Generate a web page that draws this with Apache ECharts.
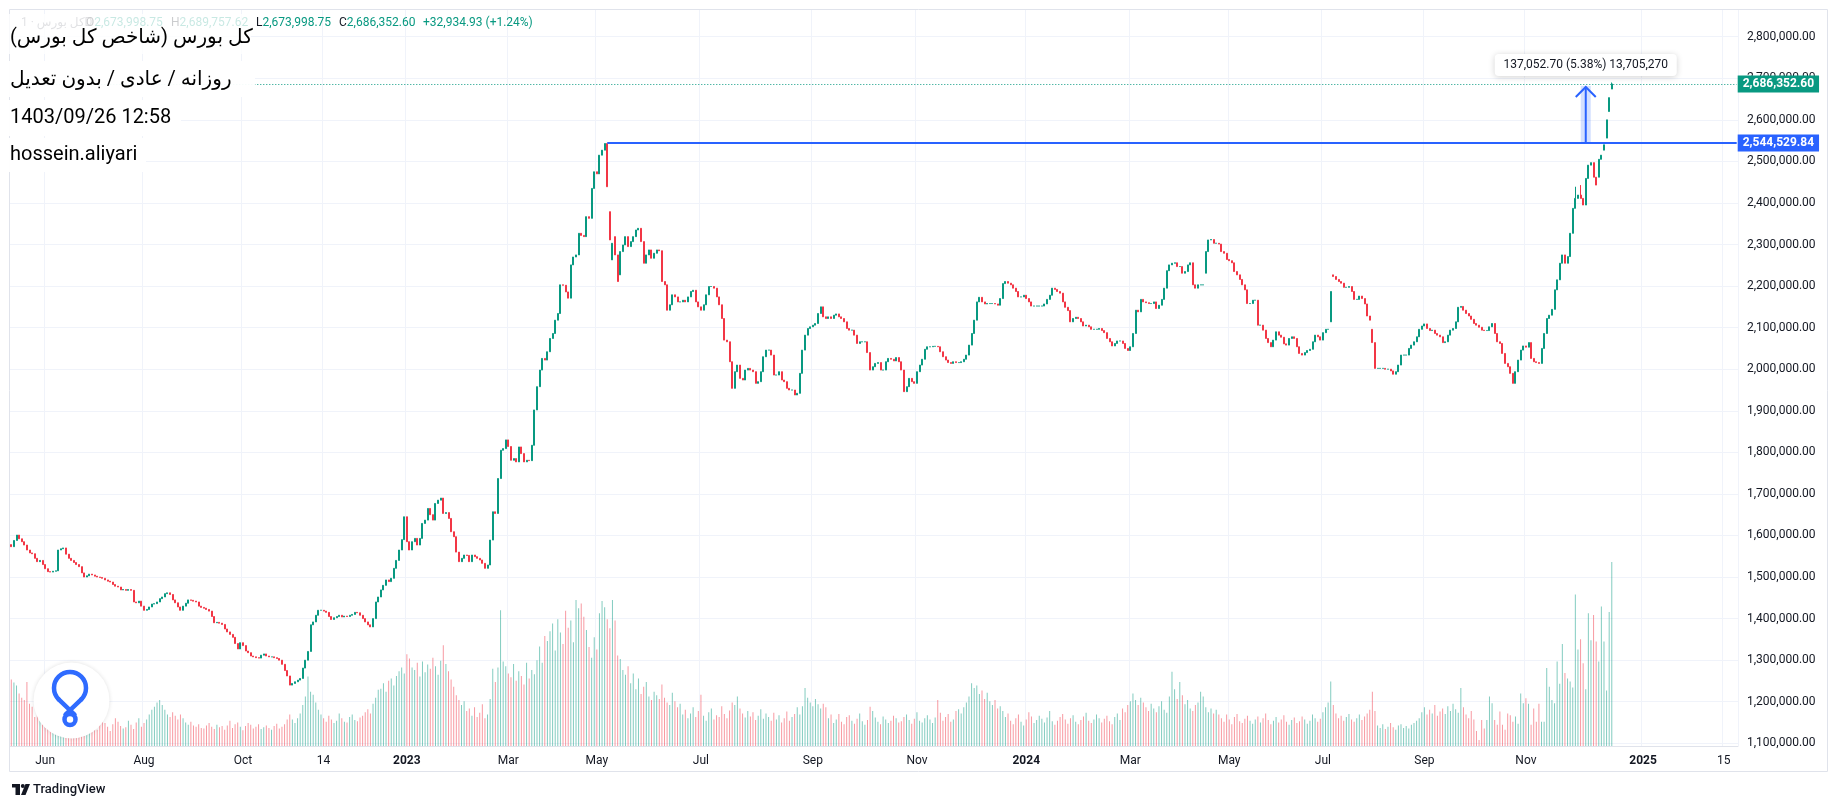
<!DOCTYPE html>
<html><head><meta charset="utf-8">
<script src="https://cdn.jsdelivr.net/npm/echarts@6/dist/echarts.min.js"></script>
<style>html,body{margin:0;padding:0;background:#fff}#c{width:1836px;height:809px}</style>
</head><body><div id="c"></div>
<script>
// ---------- DATA (closes in thousands, volume in billions) ----------
const closeK = [
1573,1588,1601,1592,1585,1577,1565,1558,1556,1545,
1537,1540,1530,1520,1513,1512,1514,1515,1565,1568,
1570,1555,1545,1540,1535,1530,1525,1510,1500,1503,
1507,1505,1502,1500,1499,1497,1493,1490,1488,1482,
1478,1476,1469,1470,1468,1470,1468,1440,1438,1442,
1430,1420,1422,1428,1435,1436,1440,1448,1452,1460,
1462,1458,1445,1438,1428,1420,1430,1437,1445,1444,
1442,1440,1430,1427,1425,1422,1418,1405,1390,1391,
1389,1386,1375,1368,1362,1355,1340,1327,1342,1335,
1322,1318,1310,1308,1306,1305,1312,1315,1310,1308,
1308,1306,1304,1300,1290,1275,1262,1240,1244,1248,
1252,1256,1281,1300,1321,1385,1392,1408,1420,
1420,1418,1415,1405,1398,1402,1405,1408,1404,1406,1405,1408,1410,1415,1414,1408,1400,1392,1385,1380,1400,1440,
1452,1469,1480,1493,1489,1497,1521,1540,1565,1590,
1645,1585,1565,1585,1593,1577,1593,1629,1637,1665,
1650,1637,1677,1685,1690,1653,1655,1641,1609,1597,
1560,1537,1545,1553,1552,1537,1553,1549,1545,1541,
1533,1521,1529,1589,1657,1653,1737,1805,1809,1830,
1814,1781,1785,1777,1813,1797,1777,1781,1780,1817,
1902,1958,1998,2026,2022,2042,2074,2086,2118,2134,
2203,2202,2186,2171,2251,2270,2275,2327,2322,2319,
2367,2363,2435,2475,2470,2515,2527,2543,
2439,2311,2303,
2275,2211,2283,2299,2319,2295,2307,2319,2335,2339,
2307,2255,2275,2287,2267,2279,2287,2285,2211,2203,
2142,2155,2179,2174,2162,2162,2166,2162,2174,2187,
2190,2162,2150,2142,2155,2179,2199,2199,2195,2174,
2155,2122,2070,2066,2018,1954,1994,2010,1978,1974,
1998,2002,1998,1994,1966,1970,1994,2030,2046,2046,
2034,1986,1986,1994,1974,1970,1954,1950,1950,1938,
1942,1990,2046,2082,2098,2102,2106,2110,2134,2150,
2126,2122,2126,2122,2130,2133,2126,2122,2114,2098,
2094,2094,2082,2062,2066,2066,2066,2040,1998,2006,
2014,2016,1998,1998,2018,2026,2024,2020,2028,2018,
1998,1946,1958,1978,1970,1966,1994,2010,2024,2048,
2054,2054,2055,2055,2054,2042,2030,2022,2016,2014,
2018,2016,2016,2018,2024,2034,2058,2086,2118,2162,
2173,2162,2157,2158,2158,2158,2157,2154,2170,2206,
2211,2207,2203,2195,2187,2174,2174,2178,2170,2162,
2152,2152,2152,2152,2152,2157,2168,2178,2195,2192,
2187,2183,2162,2149,2141,2114,2122,2125,2122,2114,
2104,2106,2102,2096,2096,2096,2098,2093,2088,2074,
2066,2056,2062,2068,2068,2062,2050,2045,2054,2086,
2142,2138,2168,2162,2160,2158,2158,2162,2146,2154,
2168,2195,2237,2251,2255,2256,2247,2247,2231,2235,
2251,
2256,
2203,2195,2203,2203,2203,2283,2311,2312,2303,2303,
2301,2283,2279,2264,2261,2256,2235,2227,2216,2203,
2191,2158,2158,2166,2166,2106,2106,2094,2074,2064,
2054,2070,2090,2082,2077,2061,2058,2074,2078,2074,
2054,2038,2034,2040,2045,2048,2066,2082,2078,2070,
2088,2096,2096,2187,2223,2216,2211,2207,2197,2197,
2199,2187,2168,2168,2176,2170,2157,2128,2118,2064,
2002,2002,2002,2002,2000,2000,1996,1988,1994,2010,
2034,2034,2034,2050,2058,2066,2078,2096,2104,2109,
2098,2093,2094,2086,2082,2078,2064,2066,2082,2094,
2098,2114,2149,2151,2142,2134,2128,2120,2110,
2106,2101,2094,2093,2093,2102,2110,2086,2066,2062,
2038,2014,2006,1990,1966,1994,2022,2046,2056,2053,
2064,2026,2018,2016,2014,2050,2086,2122,2130,2144,
2191,2215,2255,2275,2255,2271,2327,2387,2411,2419,
2411,2395,2459,2491,2497,2462,2443,2505,2515,2540,
2600,2653.42,2686.35
];
const openOverrideIdx = [0, 229, 230, 231, 232, 234, 459, 507, 508, 523, 610, 612, 613, 614];
const openOverrideK   = [1578, 2543, 2379, 2263, 2319, 2227, 2231, 2114, 2227, 2096, 2462, 2527, 2556, 2620];
const wickHighIdx = [229, 601, 603];
const wickHighK   = [2544.52984, 2439, 2443];
const lastBar = { open: 2673998.75, high: 2689757.62, low: 2673998.75, close: 2686352.60 };

const volumeB = [
11,10.5,10,8.7,8,7.6,10.6,7,6.5,4.8,5.5,4.2,3.6,3.2,3.5,3,2.8,3.3,4.5,6,5,
3.5,3,2.8,3.2,4,3.6,3,2.6,3.4,3.8,4.2,3,2.7,3.5,4.4,3.8,3.2,2.5,3.6,4.6,4,3.3,2.9,3.1,4.2,3.5,2.8,3.9,4.6,3.2,
3.8,4.4,5.2,6,6.5,7.2,7.6,6.8,6,5.2,4.8,5.6,5,4.4,5.2,4.6,3.9,3.5,4,3.4,3.2,3.6,3,2.9,3.4,3.8,3.2,2.8,3.5,3.1,
3.3,2.7,3.4,4.2,3,3.6,3.9,3.2,2.6,3.3,3.8,3.5,2.9,3.2,3.6,2.8,3.1,3.4,3,2.7,3.3,3.7,2.9,3.2,3.6,4.4,5.2,4.4,3.8,4.6,
5.4,6.8,8.2,11.5,9,8.5,7.2,6,5.2,4.6,4,5,4.4,3.8,4.2,5.4,4.6,4,3.9,4.8,5.2,4.3,4.1,4.7,5,5.6,6.1,5.4,7,8,
9.3,9.5,10.4,9,10.8,11.2,10,11.6,12.4,13,12,15.2,14.5,13,12.6,13.8,11.5,14,12.2,13.5,12.8,14.6,13.2,11.8,14.1,16.7,13.6,12.4,11,9.8,
8.4,7.6,6.8,7.4,5.8,6.2,5,6.4,4.8,5.5,6.9,4.6,5.2,7.8,12.8,10.6,13,22.5,14,13.2,12,11.4,13.6,10.8,12.4,11.6,10.2,13.8,11.2,12.6,
11.9,14.2,16.5,13.8,18.2,17.4,19,20.3,15.8,21,18.8,16.9,22.4,19.6,20.8,17.2,24.2,22.8,23.6,21.4,19.2,16.4,14.6,18,16,22,24,23,21,19.5,24.2,20.8,15,14.4,12.6,
11.8,13.2,10.4,12,9.4,11.2,8.6,9.8,10.6,8.2,7.6,9,8.4,7.8,10.2,8,7.2,6.8,8.8,7.4,
6.4,7,5.2,6,4.6,5.4,6.4,4.8,5.8,8.5,5,4.2,5.6,6.2,4.4,5.1,4.8,6.6,5.3,4.6,5.9,7.2,6.8,8.2,6.2,5.4,4.7,5.8,4.9,5.6,4.3,5,6.1,4.5,5.4,4.8,4.2,5.5,4.4,5.1,3.9,4.6,5.7,4.2,4.8,5.3,6.4,5.2,6.6,9.6,
8,7.2,6.6,7.8,6.9,6.2,7,6.4,
4.6,5.2,3.8,4.4,5.3,4,3.6,4.8,5.1,4.2,3.7,4.5,5.4,4.1,3.5,4.3,6.5,5.8,4.7,4,3.6,4.9,4.4,3.8,4.2,5,4.6,3.9,4.1,4.8,5.2,4.3,3.7,4.5,5.6,4.2,3.9,4.6,5.1,4.4,3.8,4.7,7.6,5.5,4.2,4.8,5.3,4,4.4,5.8,6.1,5.4,
6.4,7.2,8.2,10.4,9.6,10,8.6,9.2,7.8,8.8,7.4,6.8,7.6,6.2,6.6,5.8,
4.8,5.4,4.2,3.6,4.6,5.2,4,3.4,4.4,5.6,4.9,3.8,4.3,5,4.5,3.9,4.7,5.8,4.1,3.5,4.2,4.8,5.3,4.4,3.7,4.6,5.1,4,3.6,4.3,4.9,5.5,4.2,3.8,4.4,5.2,4.6,3.9,4.5,5,4.1,3.6,4.8,5.4,4.3,6.2,5.6,6.8,7.4,
8.7,7.6,6.8,8,7.2,6.4,5.8,7,6.2,5.6,6.6,7.4,6,5.5,8.2,12.3,9.4,7.8,10.6,8.4,6.9,7.6,6.2,5.8,6.8,7.2,9,8.2,6.4,5.6,6.2,5.4,6,5.2,
4.6,4,5.2,4.4,3.6,4.8,5.3,4.1,3.8,4.5,5,4.2,3.7,4.4,4.9,3.9,4.6,5.4,4.3,3.6,4.2,4.8,3.9,4.4,5.1,4,3.5,4.3,4.7,3.8,4.1,4.9,4.4,3.7,4.2,5.2,4.6,4,4.5,5.6,6.4,7.2,
10.7,
6.8,5.4,4.6,5,4.2,4.8,5.3,4.4,4,4.6,5.2,4.3,4.9,5.4,6,9,5.8,
3.4,3,3.6,2.8,3.2,3.8,3.1,2.7,3.4,3.6,3,3.3,2.9,3.5,3.8,4.2,4.6,
5.6,6.4,5.2,6,5.4,6.8,5,5.7,6.2,5.3,6.6,5.8,7,6.1,5.5,9.6,6.4,5.2,4.6,5.8,4.4,2.5,1,
4.3,2.9,4.3,8.2,7.1,4.3,3.5,5.7,3.5,2.7,5.4,5.1,4,4.9,3.7,8.7,7.1,7.9,7,3.5,6.2,4,7,4,4,12.9,9.8,7.6,7.1,14,10.3,16.9,12.1,11.2,10.7,9.7,25.1,16,17.7,13.7,9.4,22,17.5,21.7,17.3,14,23.1,17.3,9.2,22.2,30.477
];

const tickIdx  = [13, 51, 89, 120, 152, 191, 225, 265, 308, 348, 390, 430, 468, 504, 543, 582, 627, 658];
const tickText = ['Jun','Aug','Oct','14','2023','Mar','May','Jul','Sep','Nov','2024','Mar','May','Jul','Sep','Nov','2025','15'];
const yearTicks = ['2023','2024','2025'];
const totalSlots = 664;

const keyLevel = 2544529.84;
const lastPrice = 2686352.60;
const measureEnd = 2681582.54;
const measureIdx = 605;
const measureText = '137,052.70 (5.38%) 13,705,270';
const lastVolumeText = '30.477 B';
const lastVolumeB = 30.477;

const titleLines = ['\u200Fکل بورس (شاخص کل بورس)\u200F', '\u200Fروزانه / عادی / بدون تعدیل\u200F', '1403/09/26 12:58', 'hossein.aliyari'];

// ---------- BUILD ----------
const FONT = 'Roboto, "DejaVu Sans", sans-serif';
const UP = '#089981', DOWN = '#f23645';
const cats = Array.from({length: totalSlots}, (_, i) => String(i));
const n = closeK.length;
const ohlc = [];
for (let i = 0; i < n; i++) {
  let c = closeK[i] * 1000;
  let o = (i > 0 ? closeK[i - 1] : closeK[0]) * 1000;
  const oi = openOverrideIdx.indexOf(i);
  if (oi >= 0) o = openOverrideK[oi] * 1000;
  let h = Math.max(o, c), l = Math.min(o, c);
  const wi = wickHighIdx.indexOf(i);
  if (wi >= 0) h = wickHighK[wi] * 1000;
  if (i === n - 1) { o = lastBar.open; c = lastBar.close; h = lastBar.high; l = lastBar.low; }
  ohlc.push([o, c, l, h]);
}
const volData = volumeB.map((v, i) => {
  const up = ohlc[i] ? ohlc[i][1] >= ohlc[i][0] : true;
  return { value: v, itemStyle: { color: up ? 'rgba(8,153,129,0.5)' : 'rgba(242,54,69,0.5)' } };
});
const tickSet = new Set(tickIdx);
const labelMap = {};
tickIdx.forEach((t, k) => labelMap[t] = tickText[k]);

const chart = echarts.init(document.getElementById('c'), null, { renderer: 'canvas' });
const fmt = v => v.toLocaleString('en-US', { minimumFractionDigits: 2, maximumFractionDigits: 2 });
const tagLabel = (text, bg) => ({ show: true, position: 'end', distance: 1, formatter: text, color: '#fff', backgroundColor: bg,
  padding: [2, 5, 2, 5], lineHeight: 13, fontSize: 12, fontWeight: 'bold', fontFamily: FONT });

chart.setOption({
  animation: false,
  backgroundColor: '#ffffff',
  textStyle: { fontFamily: FONT },
  grid: [
    { left: 10, right: 98, top: 36.7, bottom: 65.7, outerBoundsMode: 'none' },
    { left: 10, right: 98, top: 10, bottom: 63, outerBoundsMode: 'none' }
  ],
  xAxis: [
    { type: 'category', gridIndex: 0, data: cats, boundaryGap: true,
      axisLine: { show: false }, axisTick: { show: false }, axisLabel: { show: false }, splitLine: { show: false } },
    { type: 'category', gridIndex: 1, data: cats, boundaryGap: true,
      axisLine: { show: true, lineStyle: { color: '#e0e3eb', width: 1 } },
      axisTick: { show: false },
      axisLabel: { show: true, interval: (i) => tickSet.has(i), margin: 9, color: '#131722', fontSize: 12, fontFamily: FONT,
        formatter: (v, i) => { const t = labelMap[i] || ''; return yearTicks.includes(t) ? '{b|' + t + '}' : t; },
        rich: { b: { fontWeight: 'bold', fontSize: 12, color: '#131722', fontFamily: FONT } } },
      splitLine: { show: true, interval: (i) => tickSet.has(i), lineStyle: { color: '#f0f3fa', width: 1 } } }
  ],
  yAxis: [
    { type: 'value', gridIndex: 0, position: 'right', min: 1100000, max: 2800000, interval: 100000,
      axisLine: { show: false }, axisTick: { show: false },
      axisLabel: { color: '#131722', fontSize: 12, margin: 9, fontFamily: FONT, formatter: fmt, showMinLabel: true, showMaxLabel: true },
      splitLine: { show: true, lineStyle: { color: '#f0f3fa', width: 1 } } },
    { type: 'value', gridIndex: 1, min: 0, max: 121.9, show: false, splitLine: { show: false } }
  ],
  series: [
    { type: 'bar', name: 'vol', xAxisIndex: 1, yAxisIndex: 1, barWidth: 1, data: volData, silent: true,
      markLine: { symbol: ['none', 'none'], silent: true, animation: false,
        data: [{ yAxis: lastVolumeB, lineStyle: { opacity: 0 }, label: tagLabel(lastVolumeText, '#22ab94') }] } },
    { type: 'candlestick', name: 'price', xAxisIndex: 0, yAxisIndex: 0, large: false, barWidth: 1.5, data: ohlc, silent: true,
      itemStyle: { color: UP, color0: DOWN, borderColor: UP, borderColor0: DOWN, borderWidth: 1 },
      markLine: { symbol: ['none', 'none'], silent: true, animation: false,
        data: [
          [ { coord: ['229', keyLevel], lineStyle: { color: '#2962ff', width: 2, type: 'solid' }, label: tagLabel(fmt(keyLevel), '#2962ff') },
            { coord: [String(totalSlots - 1), keyLevel] } ],
          [ { coord: ['0', lastPrice], lineStyle: { color: UP, width: 1, type: [1, 2] }, label: tagLabel(fmt(lastPrice), UP) },
            { coord: [String(totalSlots - 1), lastPrice] } ]
        ] } }
  ]
});

// ---------- OVERLAYS ----------
const pB = chart.convertToPixel({ xAxisIndex: 0, yAxisIndex: 0 }, [measureIdx, keyLevel]);
const pT = chart.convertToPixel({ xAxisIndex: 0, yAxisIndex: 0 }, [measureIdx, measureEnd]);
const mx = pB[0];
const g = [];
const hdrY = 23;
g.push({ type: 'text', x: 21, y: hdrY, z: 40, style: { text: '\u200Fکل بورس · 1D\u200F', fill: '#787b86', font: '12px ' + FONT, verticalAlign: 'middle' } });
const hdr = [[86, 'O', '2,673,998.75'], [171, 'H', '2,689,757.62'], [256, 'L', '2,673,998.75'], [339, 'C', '2,686,352.60']];
hdr.forEach(h => g.push({ type: 'text', x: h[0], y: hdrY, z: 40, style: { text: '{l|' + h[1] + '}{v|' + h[2] + '}', verticalAlign: 'middle', font: '12px ' + FONT,
  rich: { l: { fill: '#131722', fontSize: 12, fontFamily: FONT }, v: { fill: UP, fontSize: 12, fontFamily: FONT } } } }));
g.push({ type: 'text', x: 423, y: hdrY, z: 40, style: { text: '+32,934.93 (+1.24%)', fill: UP, font: '12px ' + FONT, verticalAlign: 'middle' } });
const boxes = [[3, 14, 248, 40, 0.78], [3, 61, 252, 36, 0.95], [3, 100, 178, 36, 0.95], [3, 138, 143, 34, 0.95]];
boxes.forEach(b => g.push({ type: 'rect', z: 45, shape: { x: b[0], y: b[1], width: b[2], height: b[3] }, style: { fill: 'rgba(255,255,255,' + b[4] + ')' } }));
const titleY = [37.5, 79.5, 118, 155];
titleLines.forEach((t, k) => g.push({ type: 'text', x: 10, y: titleY[k], z: 50, style: { text: t, fill: '#000', font: '20px ' + FONT, verticalAlign: 'middle' } }));
g.push({ type: 'rect', z: 30, shape: { x: mx - 5, y: pT[1], width: 10, height: pB[1] - pT[1] }, style: { fill: 'rgba(41,98,255,0.2)' } });
g.push({ type: 'line', z: 31, shape: { x1: mx, y1: pB[1], x2: mx, y2: pT[1] + 1 }, style: { stroke: '#2962ff', lineWidth: 2 } });
g.push({ type: 'polyline', z: 31, shape: { points: [[mx - 10, pT[1] + 11], [mx, pT[1] + 1], [mx + 10, pT[1] + 11]] }, style: { stroke: '#2962ff', lineWidth: 2, fill: null } });
g.push({ type: 'rect', z: 32, shape: { x: mx - 91, y: pT[1] - 32, width: 182, height: 22, r: 4 }, style: { fill: '#fff', shadowBlur: 6, shadowColor: 'rgba(0,0,0,0.18)', shadowOffsetY: 1 } });
g.push({ type: 'text', z: 33, x: mx, y: pT[1] - 21, style: { text: measureText, fill: '#131722', font: '12px ' + FONT, align: 'center', verticalAlign: 'middle' } });
g.push({ type: 'rect', z: 20, shape: { x: 9.5, y: 9.5, width: 1818, height: 762 }, style: { fill: null, stroke: '#e0e3eb', lineWidth: 1 } });
g.push({ type: 'circle', z: 60, shape: { cx: 71.5, cy: 700.5, r: 38 }, style: { fill: '#fff', shadowBlur: 4, shadowColor: 'rgba(0,0,0,0.12)' } });
g.push({ type: 'arc', z: 61, shape: { cx: 70, cy: 688, r: 16, startAngle: Math.PI * 0.75, endAngle: Math.PI * 2.25, clockwise: true }, style: { stroke: '#2f6bff', lineWidth: 4.5, fill: null, lineCap: 'round' } });
g.push({ type: 'line', z: 61, shape: { x1: 58.7, y1: 699.3, x2: 74.5, y2: 714.5 }, style: { stroke: '#2f6bff', lineWidth: 4.5, lineCap: 'round' } });
g.push({ type: 'line', z: 61, shape: { x1: 81.3, y1: 699.3, x2: 65.5, y2: 714.5 }, style: { stroke: '#2f6bff', lineWidth: 4.5, lineCap: 'round' } });
g.push({ type: 'circle', z: 61, shape: { cx: 70, cy: 719.5, r: 5.5 }, style: { stroke: '#2f6bff', lineWidth: 4.5, fill: null } });
g.push({ type: 'rect', z: 60, shape: { x: 12, y: 784, width: 8, height: 3.5 }, style: { fill: '#131722' } });
g.push({ type: 'rect', z: 60, shape: { x: 15.5, y: 784, width: 4.5, height: 11 }, style: { fill: '#131722' } });
g.push({ type: 'circle', z: 60, shape: { cx: 22.8, cy: 786, r: 2 }, style: { fill: '#131722' } });
g.push({ type: 'polygon', z: 60, shape: { points: [[25.5, 784], [30, 784], [25.5, 795], [21, 795]] }, style: { fill: '#131722' } });
g.push({ type: 'text', z: 60, x: 33, y: 790, style: { text: 'TradingView', fill: '#131722', font: '500 13px ' + FONT, verticalAlign: 'middle' } });

chart.setOption({ graphic: { elements: g } });
</script>
</body></html>
